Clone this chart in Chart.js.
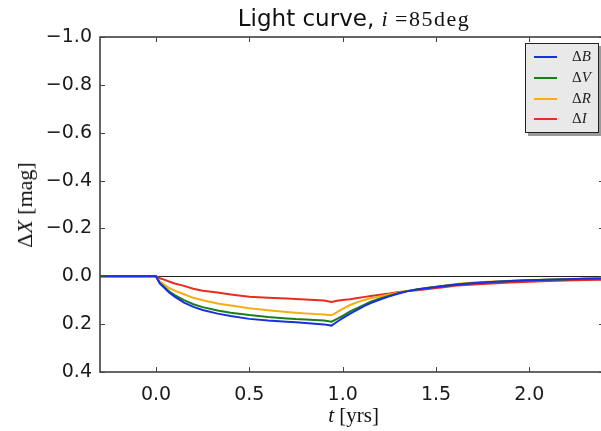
<!DOCTYPE html>
<html>
<head>
<meta charset="utf-8">
<script src="https://cdn.jsdelivr.net/npm/chart.js@4.4.1/dist/chart.umd.min.js"></script>
<style>
  html, body { margin: 0; padding: 0; background: #fff; overflow: hidden; width: 601px; height: 431px; }
  #wrap { position: relative; width: 612px; height: 431px; }
  #chart { position: absolute; left: 0; top: 0; }
  .txt { position: absolute; color: #111; white-space: nowrap; }
  .m { font-family: "Liberation Serif", "DejaVu Serif", serif; }
  #title { left: 0; width: 708px; top: 5px; text-align: center; font: 23px "DejaVu Sans", sans-serif; }
  #title .m { font-size: 22px; letter-spacing: 1.5px; }
  #xlabel { left: 0; width: 707px; top: 403px; text-align: center; font: 21px "Liberation Serif", serif; }
  #ylabel { left: 25px; top: 205px; font: 22px "Liberation Serif", serif; transform: translate(-50%, -50%) rotate(-90deg); }
  #legend { position: absolute; left: 525px; top: 43px; width: 72px; height: 88px; background: #e9e9e9;
            border: 1px solid #222; box-shadow: 3px 3px 0 #9a9a9a; }
  .row { position: absolute; left: 0; height: 20px; width: 72px; }
  .row .sw { position: absolute; left: 8px; top: 9px; width: 23px; height: 2px; }
  .row .lab { position: absolute; left: 46px; top: 1px; font: 15px "Liberation Serif", serif; color: #222; }
</style>
</head>
<body>
<div id="wrap">
  <canvas id="chart" width="612" height="431"></canvas>
  <div id="title" class="txt">Light curve, <span class="m"><i>i</i>&thinsp;=85deg</span></div>
  <div id="ylabel" class="txt">&Delta;<i>X</i> [mag]</div>
  <div id="xlabel" class="txt"><i>t</i>&nbsp;[yrs]</div>
  <div id="legend"></div>
</div>
<script>
// time since onset, years
const times = [-0.3, -0.2, -0.1, 0.0, 0.02, 0.04, 0.07, 0.1, 0.15, 0.2, 0.25, 0.33, 0.4, 0.5, 0.6, 0.7,
  0.75, 0.8, 0.85, 0.9, 0.94, 0.97, 1.0, 1.04, 1.08, 1.12, 1.15, 1.2, 1.25, 1.3, 1.35, 1.4,
  1.47, 1.55, 1.62, 1.7, 1.8, 1.9, 2.0, 2.1, 2.2, 2.3, 2.4];

// magnitude change per band
const deltaB = [0, 0, 0, 0, 0.030, 0.045, 0.068, 0.085, 0.110, 0.128, 0.141, 0.156, 0.166, 0.178, 0.185, 0.190,
  0.192, 0.195, 0.198, 0.201, 0.206, 0.190, 0.175, 0.156, 0.139, 0.123, 0.112, 0.097, 0.084, 0.072, 0.062, 0.055,
  0.048, 0.040, 0.034, 0.029, 0.024, 0.020, 0.017, 0.014, 0.012, 0.010, 0.009];
const deltaV = [0, 0, 0, 0, 0.028, 0.042, 0.063, 0.079, 0.100, 0.117, 0.129, 0.143, 0.152, 0.162, 0.170, 0.176,
  0.179, 0.181, 0.183, 0.185, 0.190, 0.178, 0.165, 0.147, 0.132, 0.117, 0.106, 0.093, 0.081, 0.070, 0.061, 0.054,
  0.047, 0.040, 0.033, 0.028, 0.024, 0.020, 0.017, 0.014, 0.012, 0.010, 0.009];
const deltaR = [0, 0, 0, 0, 0.022, 0.033, 0.049, 0.060, 0.075, 0.090, 0.100, 0.114, 0.122, 0.134, 0.142, 0.149,
  0.152, 0.155, 0.158, 0.160, 0.163, 0.150, 0.136, 0.120, 0.108, 0.098, 0.092, 0.084, 0.076, 0.068, 0.061, 0.055,
  0.047, 0.038, 0.031, 0.026, 0.022, 0.019, 0.016, 0.013, 0.011, 0.009, 0.008];
const deltaI = [0, 0, 0, 0, 0.008, 0.013, 0.022, 0.030, 0.040, 0.052, 0.060, 0.068, 0.076, 0.086, 0.090, 0.093,
  0.095, 0.097, 0.099, 0.101, 0.107, 0.102, 0.099, 0.096, 0.091, 0.086, 0.082, 0.077, 0.072, 0.066, 0.062, 0.058,
  0.052, 0.045, 0.038, 0.034, 0.030, 0.026, 0.023, 0.020, 0.018, 0.016, 0.014];

const bands = ["B", "V", "R", "I"];
const bandColors = ["#1a2fe0", "#17801a", "#f7ad12", "#ec2b1f"];
const xTicks = [0.0, 0.5, 1.0, 1.5, 2.0];
const yTicks = [-1.0, -0.8, -0.6, -0.4, -0.2, 0.0, 0.2, 0.4];

const fmt = v => (Math.abs(v) < 1e-9 ? "0.0" : v.toFixed(1).replace("-", "\u2212"));
const tickFont = { family: "DejaVu Sans", size: 19 };

// zero line under the curves, frame and inward ticks on top
const framePlugin = {
  id: "frame",
  beforeDatasetsDraw(chart) {
    const { ctx, chartArea: a, scales: { y } } = chart;
    const y0 = Math.round(y.getPixelForValue(0)) + 0.5;
    ctx.save();
    ctx.strokeStyle = "#222";
    ctx.lineWidth = 1;
    ctx.beginPath();
    ctx.moveTo(a.left, y0);
    ctx.lineTo(a.right, y0);
    ctx.stroke();
    ctx.restore();
  },
  afterDraw(chart) {
    const { ctx, chartArea: a, scales: { x, y } } = chart;
    ctx.save();
    ctx.strokeStyle = "#333";
    ctx.lineWidth = 1.5;
    ctx.strokeRect(a.left, a.top, a.right - a.left, a.bottom - a.top);
    ctx.lineWidth = 1;
    ctx.strokeStyle = "#444";
    ctx.beginPath();
    xTicks.forEach(v => {
      const px = Math.round(x.getPixelForValue(v)) + 0.5;
      ctx.moveTo(px, a.bottom); ctx.lineTo(px, a.bottom - 5);
      ctx.moveTo(px, a.top); ctx.lineTo(px, a.top + 5);
    });
    yTicks.forEach(v => {
      const py = Math.round(y.getPixelForValue(v)) + 0.5;
      ctx.moveTo(a.left, py); ctx.lineTo(a.left + 5, py);
      ctx.moveTo(a.right, py); ctx.lineTo(a.right - 5, py);
    });
    ctx.stroke();
    ctx.restore();
  }
};

const series = [deltaB, deltaV, deltaR, deltaI];

const chart = new Chart(document.getElementById("chart"), {
  type: "line",
  data: {
    datasets: series.map((vals, i) => ({
      label: "\u0394" + bands[i],
      data: times.map((t, k) => ({ x: t, y: vals[k] })),
      borderColor: bandColors[i],
      borderWidth: 2,
      pointRadius: 0,
      tension: 0,
      fill: false
    }))
  },
  options: {
    responsive: false,
    animation: false,
    devicePixelRatio: 1,
    layout: { padding: { top: 37, right: 8, left: 0, bottom: 0 } },
    plugins: { legend: { display: false }, tooltip: { enabled: false } },
    scales: {
      x: {
        type: "linear",
        min: -0.3,
        max: 2.4,
        afterBuildTicks: s => { s.ticks = xTicks.map(v => ({ value: v })); },
        afterFit: s => { s.height = 59; s.paddingLeft = 0; s.paddingRight = 0; },
        grid: { display: false, drawTicks: false },
        border: { display: false },
        ticks: { callback: v => fmt(v), font: tickFont, color: "#1a1a1a", padding: 12, maxRotation: 0, autoSkip: false }
      },
      y: {
        reverse: true,
        min: -1.0,
        max: 0.4,
        afterBuildTicks: s => { s.ticks = yTicks.map(v => ({ value: v })); },
        afterFit: s => { s.width = 100; s.paddingTop = 0; s.paddingBottom = 0; },
        grid: { display: false, drawTicks: false },
        border: { display: false },
        ticks: { callback: v => fmt(v), font: tickFont, color: "#1a1a1a", padding: 8, autoSkip: false }
      }
    }
  },
  plugins: [framePlugin]
});

// legend box built from the datasets
const legend = document.getElementById("legend");
const rowTops = [3, 24, 45, 65];
chart.data.datasets.forEach((ds, i) => {
  const row = document.createElement("div");
  row.className = "row";
  row.style.top = rowTops[i] + "px";
  row.innerHTML = `<span class="sw" style="background:${ds.borderColor}"></span>` +
    `<span class="lab">\u0394<i>${bands[i]}</i></span>`;
  legend.appendChild(row);
});
</script>
</body>
</html>
